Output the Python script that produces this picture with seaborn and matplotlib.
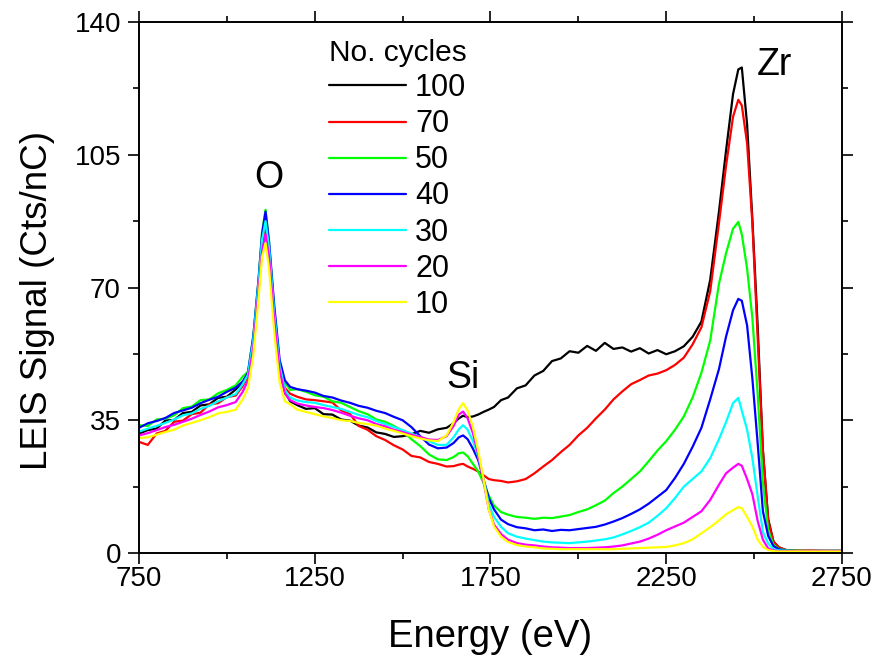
import numpy as np
import pandas as pd
import matplotlib
matplotlib.use('Agg')
import matplotlib.pyplot as plt
import seaborn as sns
from matplotlib.ticker import FixedLocator
from matplotlib.lines import Line2D

# ---------------- data ----------------
energy = [750, 775, 800, 825, 850, 875, 900, 925, 950, 975,
          1000, 1025, 1045, 1060, 1075, 1090, 1100, 1110, 1120, 1135,
          1150, 1165, 1180, 1200, 1225, 1250, 1275, 1300, 1325, 1350,
          1375, 1400, 1425, 1450, 1475, 1500, 1525, 1550, 1575, 1600,
          1625, 1645, 1660, 1672, 1685, 1700, 1715, 1730, 1745, 1760,
          1780, 1800, 1825, 1850, 1875, 1900, 1925, 1950, 1975, 2000,
          2025, 2050, 2075, 2100, 2125, 2150, 2175, 2200, 2225, 2250,
          2275, 2300, 2325, 2350, 2375, 2400, 2420, 2440, 2455, 2465,
          2480, 2495, 2510, 2525, 2540, 2555, 2570, 2590, 2620, 2660,
          2700, 2750]

cycles_100 = [31.5, 32.4, 32.8, 34.9, 35.1, 36.9, 37.2, 38.9, 39.2, 40.9,
              41.2, 43.1, 45.0, 47.0, 55.5, 70.5, 82.0, 87.0, 80.0, 63.0,
              49.0, 42.5, 40.0, 39.0, 38.0, 38.2, 36.6, 36.5, 35.2, 34.9,
              33.6, 33.1, 31.8, 31.4, 30.6, 30.8, 31.3, 32.2, 31.7, 32.6,
              33.0, 34.2, 35.5, 36.2, 35.8, 36.0, 36.5, 37.2, 37.8, 38.5,
              40.3, 41.0, 43.4, 44.2, 46.8, 48.0, 50.6, 51.3, 53.2, 52.8,
              54.6, 53.3, 55.4, 53.8, 54.2, 53.1, 54.0, 52.6, 53.5, 52.4,
              53.2, 54.5, 57.0, 61.0, 72.0, 90.0, 106.0, 121.0, 127.5, 128.0,
              113.0, 88.0, 60.0, 27.0, 9.0, 3.0, 1.5, 0.8, 0.6, 0.6,
              0.6, 0.6]

cycles_70 = [29.3, 28.5, 31.5, 32.2, 34.6, 34.9, 36.6, 37.0, 39.2, 39.5,
             41.1, 41.5, 44.0, 46.5, 55.0, 70.0, 81.0, 86.0, 79.0, 62.0,
             49.0, 43.5, 42.0, 41.2, 40.5, 40.3, 40.0, 39.7, 37.6, 36.7,
             33.5, 32.5, 30.8, 29.8, 28.4, 27.3, 25.6, 25.2, 24.0, 23.5,
             22.8, 22.9, 23.3, 23.5, 22.8, 22.2, 21.5, 20.5, 19.5, 19.2,
             19.0, 18.6, 18.9, 19.5, 21.0, 22.8, 24.5, 26.6, 28.5, 31.0,
             33.0, 35.5, 37.8, 40.5, 42.6, 44.5, 45.6, 46.8, 47.3, 48.2,
             49.6, 51.5, 55.0, 59.5, 69.0, 87.0, 102.0, 115.0, 119.5, 118.0,
             108.0, 87.0, 57.0, 27.0, 8.5, 3.0, 1.5, 0.8, 0.6, 0.6,
             0.5, 0.5]

cycles_50 = [33.7, 33.5, 35.2, 35.4, 36.3, 38.2, 38.6, 40.3, 40.5, 42.1,
             43.0, 44.2, 46.5, 47.8, 57.0, 72.0, 84.5, 90.5, 82.0, 64.0,
             50.0, 45.0, 43.0, 43.2, 42.5, 41.6, 41.2, 40.0, 39.6, 38.5,
             37.4, 36.6, 35.2, 34.6, 33.5, 32.2, 30.0, 28.2, 26.0, 24.7,
             24.5, 25.3, 26.3, 26.5, 25.5, 23.5, 21.5, 18.5, 15.2, 12.5,
             10.8, 10.1, 9.5, 9.3, 9.0, 9.3, 9.2, 9.6, 10.0, 10.8,
             11.5, 12.6, 13.8, 15.8, 17.5, 19.5, 21.5, 24.2, 27.0, 29.5,
             32.5, 36.0, 41.0, 47.5, 56.0, 71.0, 79.0, 85.5, 87.3, 84.0,
             75.0, 62.0, 42.0, 18.5, 6.0, 2.2, 1.1, 0.7, 0.6, 0.5,
             0.5, 0.5]

cycles_40 = [33.0, 34.2, 34.8, 35.6, 36.9, 37.6, 38.3, 39.5, 40.4, 41.2,
             42.5, 43.6, 45.2, 47.5, 57.0, 72.0, 84.0, 90.0, 82.0, 65.0,
             51.0, 45.5, 43.8, 43.2, 42.8, 42.3, 41.4, 41.0, 40.2, 39.6,
             38.8, 38.3, 37.5, 36.9, 35.9, 35.0, 33.2, 30.8, 28.6, 27.6,
             27.8, 29.0, 30.5, 31.0, 30.0, 27.5, 24.5, 19.5, 14.5, 11.5,
             8.8, 7.6, 6.8, 6.5, 6.0, 6.2, 5.8, 6.1, 6.0, 6.3,
             6.6, 6.9, 7.5, 8.3, 9.2, 10.3, 11.5, 13.0, 14.8, 16.6,
             19.8, 23.5, 28.0, 33.0, 40.5, 48.5, 57.0, 64.0, 67.0, 66.5,
             60.0, 46.0, 29.0, 11.0, 4.5, 1.8, 1.0, 0.6, 0.5, 0.5,
             0.5, 0.5]

cycles_30 = [32.0, 32.8, 33.5, 34.3, 35.2, 36.3, 36.8, 38.0, 38.8, 40.0,
             41.0, 41.9, 44.5, 47.0, 56.0, 71.0, 82.5, 87.5, 80.5, 63.0,
             49.5, 43.0, 41.0, 40.2, 39.8, 39.6, 39.0, 38.5, 38.0, 37.2,
             36.4, 35.8, 34.8, 34.0, 33.2, 32.4, 31.5, 30.6, 29.5, 28.5,
             28.5, 30.5, 32.6, 33.7, 32.5, 29.5, 25.5, 19.5, 13.0, 9.5,
             6.9, 5.2, 4.3, 3.8, 3.4, 3.0, 2.8, 2.7, 2.6, 2.8,
             3.0, 3.3, 3.6, 4.1, 4.9, 5.8, 6.8, 8.0, 9.8, 11.8,
             14.5, 17.5, 19.5, 21.5, 25.0, 30.0, 34.5, 39.5, 40.9, 37.5,
             32.5, 25.0, 15.0, 5.5, 2.5, 1.0, 0.7, 0.6, 0.5, 0.5,
             0.5, 0.5]

cycles_20 = [31.0, 31.6, 32.4, 33.2, 33.8, 34.6, 35.4, 36.4, 37.3, 38.4,
             39.0, 39.8, 42.5, 45.5, 54.0, 69.0, 79.5, 84.0, 78.0, 61.0,
             48.0, 42.0, 40.3, 39.4, 38.9, 38.5, 38.2, 37.7, 37.0, 36.2,
             35.5, 35.0, 34.0, 33.4, 32.5, 31.9, 31.2, 30.6, 29.9, 29.8,
             30.8, 33.5, 36.5, 37.3, 35.5, 31.6, 26.0, 19.0, 11.5, 7.5,
             5.0, 3.5, 2.6, 2.2, 2.0, 1.7, 1.5, 1.4, 1.3, 1.3,
             1.3, 1.4, 1.5, 1.7, 2.0, 2.5, 3.0, 3.8, 4.8, 6.0,
             7.0, 8.0, 9.5, 11.0, 14.0, 18.0, 21.0, 22.5, 23.5, 23.0,
             19.5, 15.5, 8.5, 3.5, 1.2, 0.7, 0.5, 0.5, 0.5, 0.5,
             0.5, 0.5]

cycles_10 = [30.3, 30.5, 31.2, 31.9, 32.5, 33.6, 34.3, 35.0, 35.8, 36.8,
             37.2, 37.8, 40.5, 43.5, 52.0, 67.0, 78.0, 81.7, 75.0, 58.0,
             45.0, 40.0, 39.2, 37.8, 37.2, 36.6, 36.0, 35.6, 35.0, 34.8,
             34.3, 34.0, 33.6, 32.8, 32.2, 31.5, 30.8, 30.2, 29.7, 29.5,
             31.0, 34.5, 38.0, 39.5, 37.5, 33.2, 27.0, 19.5, 11.5, 7.0,
             4.3, 2.9, 2.1, 1.7, 1.5, 1.2, 1.1, 1.0, 1.0, 1.0,
             1.0, 1.0, 1.0, 1.0, 1.1, 1.2, 1.3, 1.4, 1.5, 1.6,
             2.0, 2.6, 3.6, 5.2, 6.8, 8.6, 10.2, 11.3, 12.1, 11.8,
             9.5, 7.0, 3.5, 1.6, 0.8, 0.5, 0.4, 0.4, 0.4, 0.4,
             0.4, 0.4]

cycle_labels = ['100', '70', '50', '40', '30', '20', '10']
line_colors = ['#000000', '#FF0000', '#00FF00', '#0000FF', '#00FFFF', '#FF00FF', '#FFFF00']
x_ticks = [750, 1250, 1750, 2250, 2750]
x_minor = [1000, 1500, 2000, 2500]
y_ticks = [0, 35, 70, 105, 140]
y_minor = [17.5, 52.5, 87.5, 122.5]
peak_labels = ['O', 'Si', 'Zr']
peak_x = [1120, 1672, 2557]
peak_y = [96.3, 43.6, 126.0]

# ---------------- figure ----------------
sns.set_style('ticks')
plt.rcParams['font.family'] = ['Liberation Sans', 'DejaVu Sans']
plt.rcParams['text.color'] = 'black'
plt.rcParams['axes.labelcolor'] = 'black'
plt.rcParams['xtick.color'] = 'black'
plt.rcParams['ytick.color'] = 'black'
plt.rcParams['axes.edgecolor'] = 'black'

all_series = [cycles_100, cycles_70, cycles_50, cycles_40, cycles_30, cycles_20, cycles_10]
df = pd.concat([pd.DataFrame({'Energy': energy, 'Signal': vals, 'cycles': lab})
                for lab, vals in zip(cycle_labels, all_series)], ignore_index=True)

fig = plt.figure(figsize=(8.81, 6.62), dpi=100)
ax = fig.add_axes([139 / 881, 1 - 553 / 662, 703 / 881, 531 / 662])

sns.lineplot(data=df, x='Energy', y='Signal', hue='cycles', hue_order=cycle_labels,
             palette=line_colors, linewidth=1.6, ax=ax, legend=False,
             estimator=None, sort=False)

ax.set_xlim(750, 2750)
ax.set_ylim(0, 140)
ax.set_xticks(x_ticks)
ax.set_xticklabels([str(t) for t in x_ticks])
ax.set_yticks(y_ticks)
ax.set_yticklabels([str(t) for t in y_ticks])
ax.xaxis.set_minor_locator(FixedLocator(x_minor))
ax.yaxis.set_minor_locator(FixedLocator(y_minor))
ax.tick_params(which='both', direction='out', top=True, right=True, width=1.2,
               colors='black', labelsize=20)
ax.tick_params(which='major', length=8)
ax.tick_params(which='minor', length=4.5)
ax.tick_params(axis='x', which='major', pad=1)
ax.tick_params(axis='y', which='major', pad=5)
for sp in ax.spines.values():
    sp.set_linewidth(1.4)
    sp.set_color('black')

ax.set_xlabel('Energy (eV)', fontsize=27.5, color='black')
ax.set_ylabel('LEIS Signal (Cts/nC)', fontsize=26.5, color='black')
ax.xaxis.set_label_coords(0.5, -0.125)
ax.yaxis.set_label_coords(-0.12, 0.475)

for lab, px, py in zip(peak_labels, peak_x, peak_y):
    ax.text(px, py, lab, ha='center', va='baseline', fontsize=27, color='black')

handles = [Line2D([0], [0], color=c, lw=1.6) for c in line_colors]
leg = ax.legend(handles, cycle_labels, title='No. cycles', loc='upper left',
                bbox_to_anchor=(329 / 881, 1 - 39 / 662), bbox_transform=fig.transFigure,
                frameon=False, fontsize=22, title_fontsize=21.5, handlelength=2.5,
                handletextpad=0.3, labelspacing=0.2, borderpad=0, borderaxespad=0)
for t in leg.get_texts():
    t.set_color('black')
leg.get_title().set_color('black')

fig.savefig('out.png', dpi=100)
